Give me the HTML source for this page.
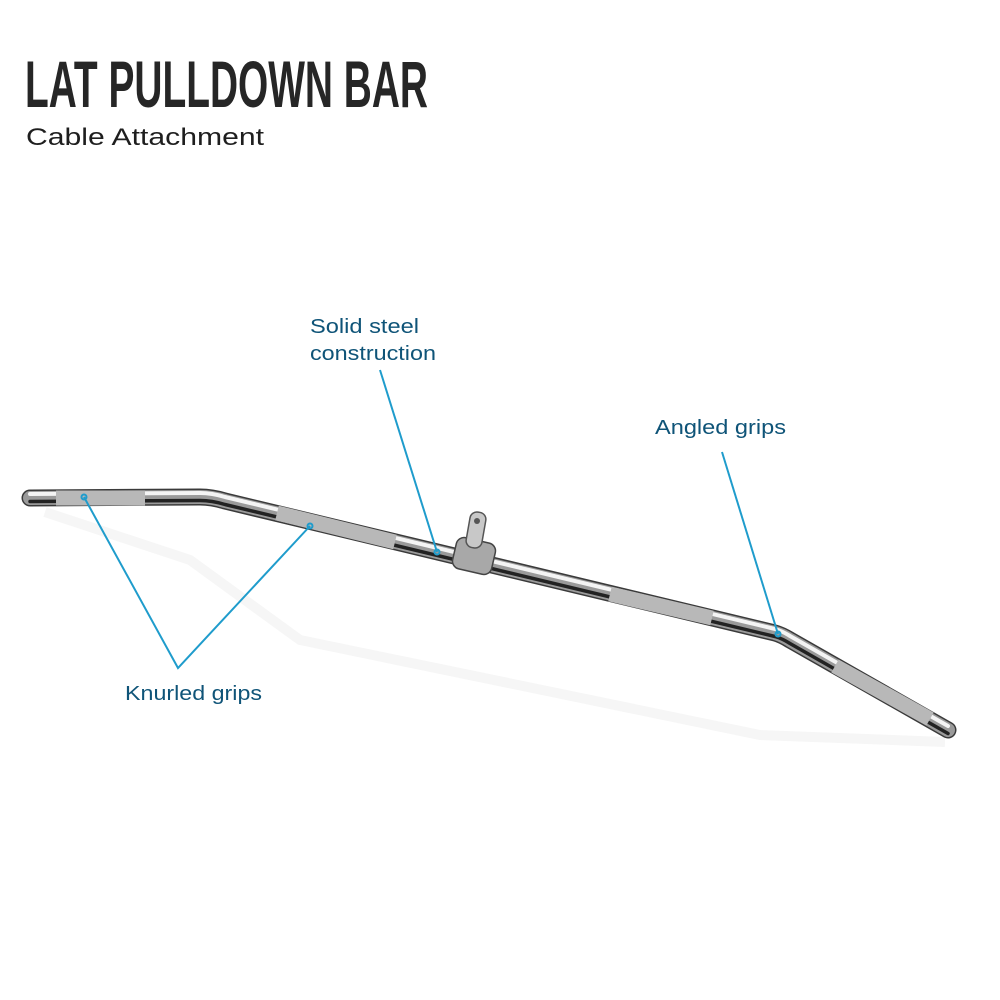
<!DOCTYPE html>
<html><head><meta charset="utf-8"><style>
html,body{margin:0;padding:0;background:#fff;}
svg{display:block}
</style></head><body>
<svg width="1000" height="1000" viewBox="0 0 1000 1000" xmlns="http://www.w3.org/2000/svg">
<text x="25" y="107" font-family="Liberation Sans Narrow, Liberation Sans, sans-serif" font-weight="bold" font-size="66" fill="#262626" textLength="403" lengthAdjust="spacingAndGlyphs">LAT PULLDOWN BAR</text>
<text x="26" y="145" font-family="Liberation Sans, sans-serif" font-size="24" fill="#1e1e1e" textLength="238" lengthAdjust="spacingAndGlyphs">Cable Attachment</text>

<!-- shadow -->
<path d="M45 512 L190 560 L300 640 L760 735 L945 742" stroke="#f6f6f6" stroke-width="10" fill="none"/>

<!-- bar base -->
<g fill="none" stroke-linecap="round" stroke-linejoin="round">
<path d="M30 498 L200 497 Q212 497 225 501 L775 633 Q782 635 790 640 L948 730" stroke="#3a3a3a" stroke-width="17"/>
<path d="M30 498 L200 497 Q212 497 225 501 L775 633 Q782 635 790 640 L948 730" stroke="#9a9a9a" stroke-width="14"/>
<path d="M30 494 L200 493 Q212 493 225 497 L775 629 Q782 631 790 636 L948 726" stroke="#f4f4f4" stroke-width="4"/>
<path d="M30 501.5 L200 500.5 Q212 500.5 225 504.5 L775 636.5 Q782 638.5 790 643.5 L948 733.5" stroke="#222" stroke-width="3.5"/>
</g>
<!-- knurled grips -->
<g stroke-width="15" stroke="#b8b8b8">
<path d="M56 498 L145 498"/>
<path d="M277 513 L395 542"/>
<path d="M610 594 L712 618"/>
<path d="M835 666 L930 719"/>
</g>
<!-- mount -->
<rect x="454" y="540" width="40" height="32" rx="8" fill="#a8a8a8" stroke="#444" stroke-width="1.5" transform="rotate(13 474 556)"/>
<rect x="468" y="512" width="16" height="36" rx="7" fill="#c8c8c8" stroke="#555" stroke-width="1.5" transform="rotate(10 476 530)"/>
<circle cx="477" cy="521" r="3" fill="#555"/>

<!-- callout lines -->
<g stroke="#1f9ccc" stroke-width="2" fill="none">
<line x1="380" y1="370" x2="437" y2="552"/>
<line x1="722" y1="452" x2="778" y2="634"/>
<polyline points="84,497 178,668 310,526"/>
<circle cx="437" cy="552" r="2.5"/>
<circle cx="778" cy="634" r="2.5"/>
<circle cx="84" cy="497" r="2.5"/>
<circle cx="310" cy="526" r="2.5"/>
</g>
<g font-family="Liberation Sans, sans-serif" font-size="20" fill="#0f5478">
<text x="310" y="333" textLength="109" lengthAdjust="spacingAndGlyphs">Solid steel</text>
<text x="310" y="360" textLength="126" lengthAdjust="spacingAndGlyphs">construction</text>
<text x="655" y="434" textLength="131" lengthAdjust="spacingAndGlyphs">Angled grips</text>
<text x="125" y="700" textLength="137" lengthAdjust="spacingAndGlyphs">Knurled grips</text>
</g>
</svg>
</body></html>
